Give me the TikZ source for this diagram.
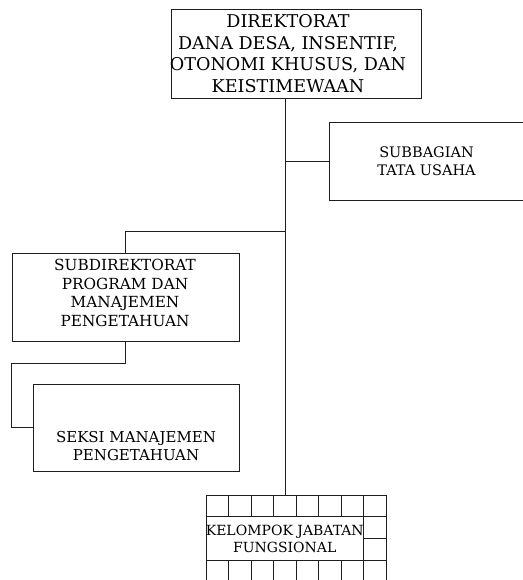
\documentclass[tikz,border=0pt]{standalone}
\usepackage{fontspec}
\setmainfont{DejaVu Serif}
\begin{document}
\begin{tikzpicture}[x=1pt, y=-1pt, every node/.style={inner sep=0pt}]
    \definecolor{orgline}{RGB}{30,30,30}
    \tikzset{
        orgbox/.style={draw=orgline, line width=0.9pt, fill=white, rectangle},
        orglink/.style={draw=orgline, line width=0.9pt},
        orgtext/.style={align=center, text=black}
    }
    \useasboundingbox (0,0) rectangle (522,580);

    % Kotak pimpinan direktorat.
    \node[orgbox, minimum width=250pt, minimum height=89pt] (dir) at (296,53.5) {};
    \node[orgtext, font=\fontsize{17.6}{21.5}\selectfont] (dirtext) at (288,53.5)
        {DIREKTORAT\\DANA DESA, INSENTIF,\\OTONOMI KHUSUS, DAN\\KEISTIMEWAAN};

    % Unit di bawahnya.
    \node[orgbox, orgtext, minimum width=195pt, minimum height=78pt,
        font=\fontsize{14.5}{17.5}\selectfont] (tu) at (426.5,161)
        {SUBBAGIAN\\TATA USAHA};
    \node[orgbox, minimum width=227pt, minimum height=88pt] (sub) at (125.5,297) {};
    \node[orgtext, font=\fontsize{15.3}{18.4}\selectfont] (subtext) at (125,293)
        {SUBDIREKTORAT\\PROGRAM DAN\\MANAJEMEN\\PENGETAHUAN};
    \node[orgbox, minimum width=206pt, minimum height=87pt] (seksi) at (136,427.5) {};
    \node[orgtext, font=\fontsize{15}{18}\selectfont] (seksitext) at (136,446)
        {SEKSI MANAJEMEN\\PENGETAHUAN};

    % Kisi jabatan fungsional.
    \foreach \i in {0,...,8}
        \draw[orglink] (206+22.5*\i,495) -- (206+22.5*\i,582);
    \foreach \j in {0,...,3}
        \draw[orglink] (206,495+21.67*\j) -- (386,495+21.67*\j);
    \node[orgbox, minimum width=157.5pt, minimum height=43.3pt] (kjf) at (284.75,538.35) {};
    \node[orgtext, font=\fontsize{14}{17.5}\selectfont] (kjftext) at (284.75,538.8)
        {KELOMPOK JABATAN\\FUNGSIONAL};

    % Garis hubung.
    \coordinate (kjftop) at (285,495);
    \coordinate (subbranch) at (285,231);
    \draw[orglink] (dir.south -| kjftop) -- (kjftop);
    \draw[orglink] (tu.west -| kjftop) -- (tu.west);
    \draw[orglink] (subbranch) -| (sub.north);
    \draw[orglink] (sub.south) -- ++(0,22) -| (sub.west |- seksi.west) -- (seksi.west);
\end{tikzpicture}
\end{document}
